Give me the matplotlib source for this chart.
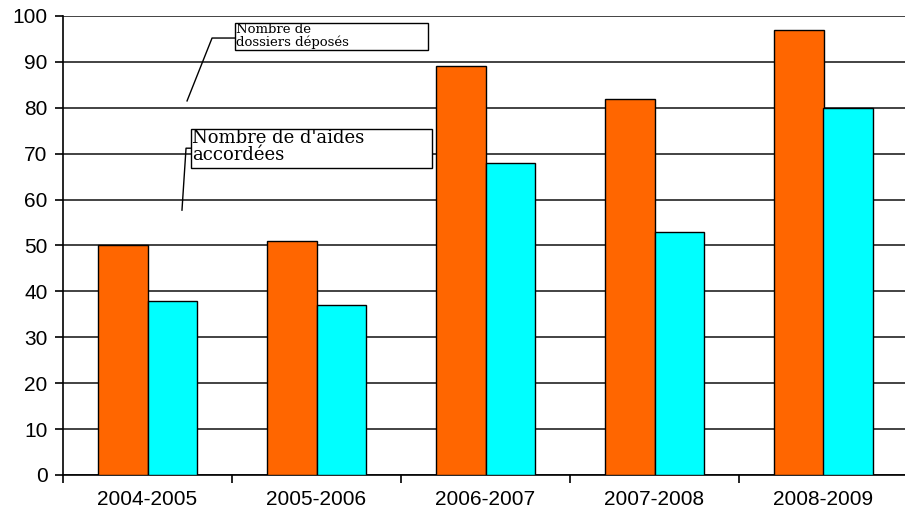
import matplotlib.pyplot as plt
import numpy as np
from matplotlib.patches import Rectangle

years = ['2004-2005', '2005-2006', '2006-2007', '2007-2008', '2008-2009']
dossiers = [50, 51, 89, 82, 97]
aides = [38, 37, 68, 53, 80]

fig = plt.figure(figsize=(9.05, 5.17), dpi=100)
ax = fig.add_axes([63 / 905, 1 - 475 / 517, 845 / 905, 459 / 517])

x = np.arange(len(years))
w = 0.29
ax.bar(x - w / 2, dossiers, w, color='#FF6600', edgecolor='black', linewidth=1, zorder=3)
ax.bar(x + w / 2, aides, w, color='#00FFFF', edgecolor='black', linewidth=1, zorder=3)

ax.set_xlim(-0.5, 4.5)
ax.set_ylim(0, 100)
ax.set_yticks(range(0, 101, 10))
ax.yaxis.grid(True, color='#222222', linewidth=1.2, zorder=0)
ax.set_axisbelow(True)

ax.set_xticks(x)
ax.set_xticklabels(years)
ax.set_xticks(np.arange(-0.5, 4.6, 1), minor=True)
ax.tick_params(axis='x', which='major', length=0, pad=11)
ax.tick_params(axis='x', which='minor', length=6, width=1.2, direction='out')
ax.tick_params(axis='y', length=6, width=1.2, direction='out', pad=5)
for lab in ax.get_xticklabels() + ax.get_yticklabels():
    lab.set_fontfamily('Liberation Sans')
    lab.set_fontsize(15)

for s in ['top', 'right']:
    ax.spines[s].set_visible(False)
for s in ['left', 'bottom']:
    ax.spines[s].set_linewidth(1.2)

# callout boxes
ax.plot([0.234, 0.382, 0.518], [81.5, 95.2, 95.2], color='black', lw=1, clip_on=False, zorder=5)
ax.add_patch(Rectangle((0.518, 92.6), 1.142, 5.9, facecolor='white', edgecolor='black',
                       lw=1, clip_on=False, zorder=5))
ax.text(0.525, 98.4, 'Nombre de\ndossiers déposés', fontsize=9.5, family='DejaVu Serif',
        va='top', ha='left', linespacing=0.9, zorder=6)

ax.plot([0.204, 0.228, 0.257], [57.7, 71.2, 71.2], color='black', lw=1, clip_on=False, zorder=5)
ax.add_patch(Rectangle((0.257, 66.9), 1.426, 8.5, facecolor='white', edgecolor='black',
                       lw=1, clip_on=False, zorder=5))
ax.text(0.265, 75.3, "Nombre de d'aides\naccordées", fontsize=13, family='DejaVu Serif',
        va='top', ha='left', linespacing=0.9, zorder=6)

fig.savefig('out.png', dpi=100)
